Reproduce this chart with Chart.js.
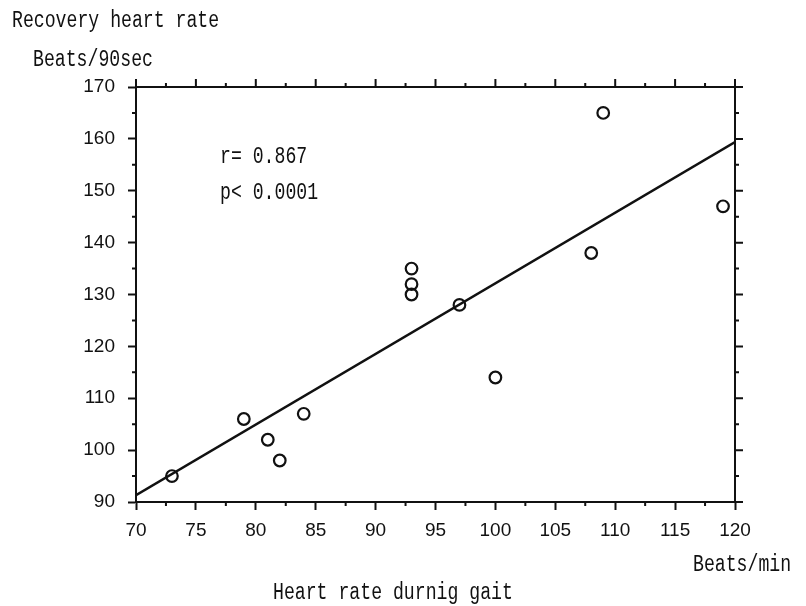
<!DOCTYPE html>
<html>
<head>
<meta charset="utf-8">
<script src="https://cdn.jsdelivr.net/npm/chart.js@4.4.1/dist/chart.umd.min.js"></script>
<style>
  html, body { margin: 0; padding: 0; background: #fff; }
  #wrap { width: 806px; height: 606px; position: relative; }
</style>
</head>
<body>
<div id="wrap"><canvas id="chart"></canvas></div>
<script>
// Heart rate during gait (beats/min) vs recovery heart rate (beats/90sec)
const gaitRate = [73, 79, 81, 82, 84, 93, 93, 93, 97, 100, 108, 109, 119];
const recoveryRate = [95, 106, 102, 98, 107, 135, 132, 130, 128, 114, 138, 165, 147];

// Regression line end points
const fitX = [70, 120];
const fitY = [91.3, 159.4];

// Axis ranges
const xRange = [70, 120];
const yRange = [90, 170];
const xStep = 5;
const yStep = 10;

// Texts around the plot
const yTitle = 'Recovery heart rate';
const yUnit = 'Beats/90sec';
const xTitle = 'Heart rate durnig gait';
const xUnit = 'Beats/min';
const statLines = ['r= 0.867', 'p< 0.0001'];

const INK = '#111';

// Draws minor ticks, top/right frame and the mincho-like texts
const framePlugin = {
    id: 'frame',
    afterDraw(chart) {
        const ctx = chart.ctx;
        const xs = chart.scales.x;
        const ys = chart.scales.y;
        const a = chart.chartArea;
        ctx.save();
        ctx.strokeStyle = INK;
        ctx.lineWidth = 2;
        ctx.beginPath();
        // top and right frame
        ctx.moveTo(a.left, a.top);
        ctx.lineTo(a.right, a.top);
        ctx.lineTo(a.right, a.bottom);
        // x ticks (major + minor), bottom and top
        for (let v = xRange[0]; v <= xRange[1] + 0.01; v += xStep / 2) {
            const px = xs.getPixelForValue(v);
            const major = Math.abs((v - xRange[0]) % xStep) < 0.01;
            const len = major ? 8 : 4;
            if (!major) {
                ctx.moveTo(px, a.bottom);
                ctx.lineTo(px, a.bottom + len);
            }
            ctx.moveTo(px, a.top);
            ctx.lineTo(px, a.top - len);
        }
        // y ticks (major + minor), left and right
        for (let v = yRange[0]; v <= yRange[1] + 0.01; v += yStep / 2) {
            const py = ys.getPixelForValue(v);
            const major = Math.abs((v - yRange[0]) % yStep) < 0.01;
            const len = major ? 8 : 4;
            if (!major) {
                ctx.moveTo(a.left, py);
                ctx.lineTo(a.left - len, py);
            }
            ctx.moveTo(a.right, py);
            ctx.lineTo(a.right + len, py);
        }
        ctx.stroke();

        // texts
        ctx.fillStyle = INK;
        ctx.textBaseline = 'middle';
        ctx.textAlign = 'left';
        const txt = (s, x, y) => {
            ctx.save();
            ctx.font = '23px "Liberation Mono"';
            ctx.translate(x, y);
            ctx.scale(0.79, 1);
            ctx.fillText(s, 0, 0);
            ctx.restore();
        };
        txt(yTitle, 12, 21);
        txt(yUnit, 33, 60);
        txt(statLines[0], 220, 157);
        txt(statLines[1], 220, 193);
        txt(xUnit, 693, 565);
        txt(xTitle, 273, 593);
        ctx.restore();
    }
};

function init() {
    const ctx = document.getElementById('chart').getContext('2d');
    Chart.defaults.font.family = '"Liberation Sans", Arial, sans-serif';
    Chart.defaults.color = INK;

    new Chart(ctx, {
        type: 'scatter',
        data: {
            datasets: [
                {
                    label: 'Regression',
                    type: 'line',
                    data: fitX.map((x, i) => ({ x: x, y: fitY[i] })),
                    borderColor: INK,
                    borderWidth: 2.5,
                    pointRadius: 0,
                    fill: false
                },
                {
                    label: 'Subjects',
                    data: gaitRate.map((x, i) => ({ x: x, y: recoveryRate[i] })),
                    pointStyle: 'circle',
                    pointRadius: 5.8,
                    borderWidth: 2.2,
                    borderColor: INK,
                    backgroundColor: 'rgba(255,255,255,0)'
                }
            ]
        },
        options: {
            responsive: true,
            maintainAspectRatio: false,
            animation: false,
            layout: { padding: { left: 0, top: 87, right: 71, bottom: 0 } },
            plugins: {
                legend: { display: false },
                tooltip: { enabled: false }
            },
            scales: {
                x: {
                    type: 'linear',
                    min: xRange[0],
                    max: xRange[1],
                    afterFit: (scale) => { scale.height = 104; },
                    ticks: {
                        stepSize: xStep,
                        padding: 9,
                        font: { size: 19 },
                        color: INK
                    },
                    grid: {
                        drawOnChartArea: false,
                        tickLength: 8,
                        tickColor: INK,
                        tickWidth: 2
                    },
                    border: { color: INK, width: 2 }
                },
                y: {
                    type: 'linear',
                    min: yRange[0],
                    max: yRange[1],
                    afterFit: (scale) => { scale.width = 136; },
                    ticks: {
                        stepSize: yStep,
                        padding: 13,
                        font: { size: 19 },
                        color: INK
                    },
                    grid: {
                        drawOnChartArea: false,
                        tickLength: 8,
                        tickColor: INK,
                        tickWidth: 2
                    },
                    border: { color: INK, width: 2 }
                }
            }
        },
        plugins: [framePlugin]
    });
}

document.addEventListener('DOMContentLoaded', init);
</script>
</body>
</html>
